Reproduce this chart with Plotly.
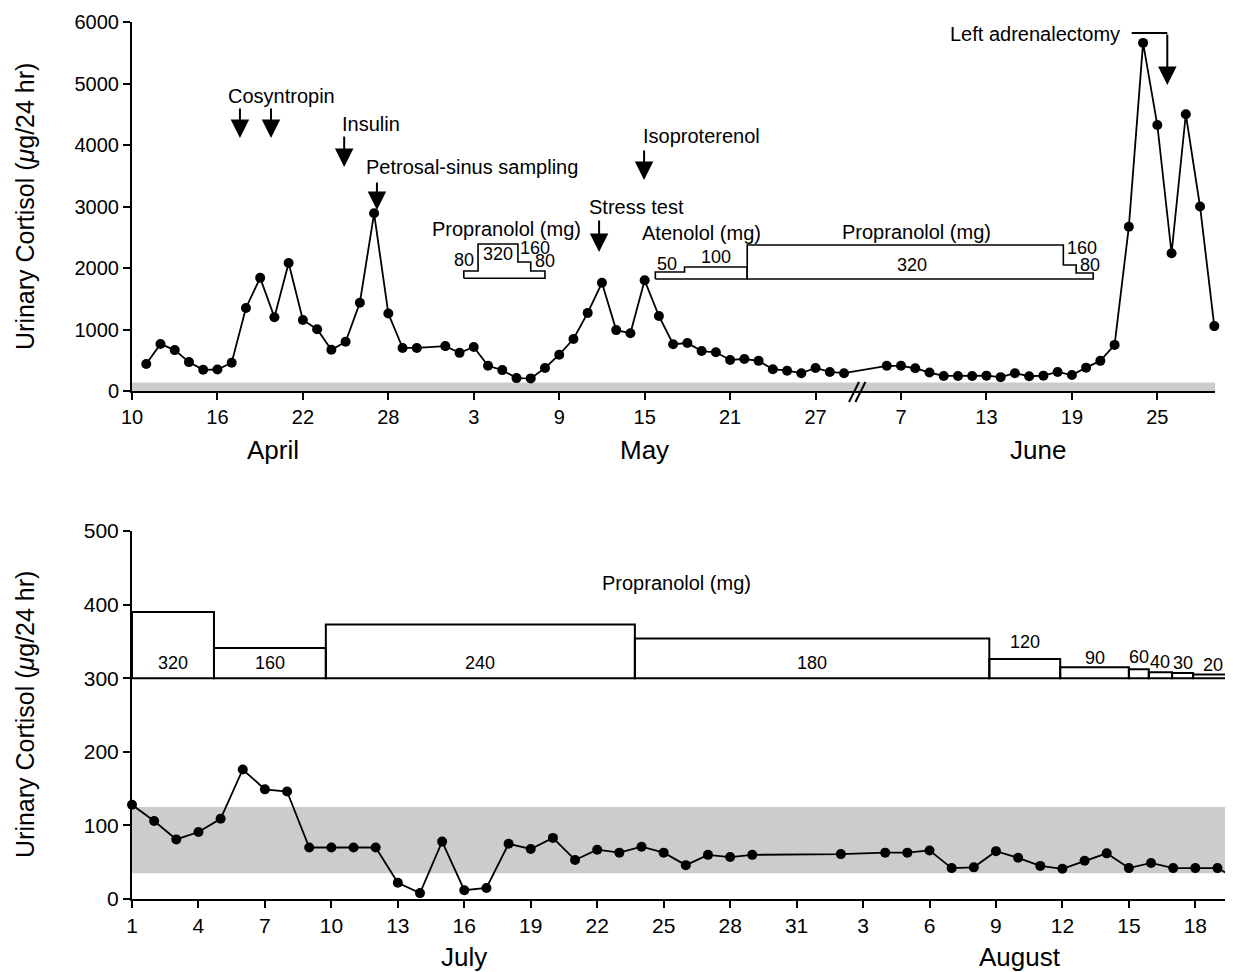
import plotly.graph_objects as go

# ---------------- DATA ----------------
# Top panel: day index on the chart axis (April 10 = 0, uniform 6-day ticks)
top_day = [1, 2, 3, 4, 5, 6, 7, 8, 9, 10, 11, 12, 13, 14, 15, 16, 17, 18, 19, 20,
           22, 23, 24, 25, 26, 27, 28, 29, 30, 31, 32, 33, 34, 35, 36, 37, 38, 39, 40,
           41, 42, 43, 44, 45, 46, 47, 48, 49, 50,
           53, 54, 55, 56, 57, 58, 59, 60, 61, 62, 63, 64, 65, 66, 67, 68, 69, 70,
           71, 72, 73, 74, 75, 76]
top_cortisol = [440, 765, 665, 470, 345, 350, 460, 1350, 1840, 1200, 2080, 1155, 1005, 670, 800, 1435, 2890, 1260, 700, 700,
                730, 620, 715, 410, 340, 210, 205, 375, 590, 845, 1270, 1760, 990, 940, 1800, 1220, 760, 780, 650,
                630, 505, 520, 490, 355, 330, 290, 375, 310, 290,
                410, 410, 370, 300, 245, 245, 245, 250, 225, 290, 240, 250, 310, 260, 380, 490, 750, 2670,
                5660, 4325, 2240, 4500, 3000, 1055]
top_tickvals = [0, 6, 12, 18, 24, 30, 36, 42, 48, 54, 60, 66, 72]
top_ticktext = ["10", "16", "22", "28", "3", "9", "15", "21", "27", "7", "13", "19", "25"]
top_months = ["April", "May", "June"]
top_month_pos = [9.9, 36.0, 63.6]
top_normal = [0, 140]

# Top panel drug regimens (step outlines): start days, end day, step heights, base, labels
prop1_start = [23.3, 24.3, 27.1, 28.0]
prop1_end = 29.0
prop1_top = [1951, 2390, 2098, 1951]
prop1_base = 1833
prop1_dose = ["80", "320", "160", "80"]
prop1_lbl_x = [23.3, 25.7, 28.3, 29.0]
prop1_lbl_y = [2130, 2228, 2325, 2114]

aten_start = [36.75, 38.8]
aten_end = 43.2
aten_top = [1935, 2016]
aten_dose = ["50", "100"]
aten_lbl_x = [37.6, 41.0]
aten_lbl_y = [2065, 2179]

prop2_start = [43.2, 65.4, 66.3]
prop2_end = 67.5
prop2_top = [2374, 2049, 1919]
prop2_dose = ["320", "160", "80"]
prop2_lbl_x = [54.8, 66.7, 67.3]
prop2_lbl_y = [2049, 2325, 2049]
regimen2_base = 1821

# Events (arrows): text, text x, text y, arrow x list, arrow tail y, arrow tip y
events = [
    ("Cosyntropin", 10.5, 4797, [7.58, 9.76], 4618, 4114),
    ("Insulin", 16.8, 4341, [14.9], 4163, 3642),
    ("Petrosal-sinus sampling", 23.9, 3642, [17.2], 3415, 2943),
    ("Isoproterenol", 40.0, 4146, [35.96], 3935, 3431),
    ("Stress test", 35.4, 2992, [32.8], 2797, 2260),
]

# Bottom panel: day index (July 1 = 0)
bot_day = [0, 1, 2, 3, 4, 5, 6, 7, 8, 9, 10, 11, 12, 13, 14, 15, 16, 17, 18, 19, 20,
           21, 22, 23, 24, 25, 26, 27, 28, 32, 34, 35, 36, 37, 38, 39, 40, 41, 42, 43,
           44, 45, 46, 47, 48, 49, 50]
bot_cortisol = [128, 106, 81, 91, 109, 176, 149, 146, 70, 70, 70, 70, 22, 8, 78, 12, 15, 75, 68, 83, 53,
                67, 63, 71, 63, 46, 60, 57, 60, 61, 63, 63, 66, 42, 43, 65, 56, 45, 41, 52,
                62, 42, 49, 42, 42, 42, 25]
bot_tickvals = [0, 3, 6, 9, 12, 15, 18, 21, 24, 27, 30, 33, 36, 39, 42, 45, 48]
bot_ticktext = ["1", "4", "7", "10", "13", "16", "19", "22", "25", "28", "31",
                "3", "6", "9", "12", "15", "18"]
bot_months = ["July", "August"]
bot_month_pos = [15.0, 40.1]
bot_normal = [35, 125]

# Bottom panel propranolol regimen
bprop_edges = [0, 3.7, 8.75, 22.7, 38.7, 41.9, 45.0, 45.9, 46.95, 47.9, 49.7]
bprop_top = [390, 341, 373, 354, 326, 315, 312, 308, 307, 305]
bprop_dose = ["320", "160", "240", "180", "120", "90", "60", "40", "30", "20"]
bprop_lbl_y = [321, 321, 321, 321, 349, 327, 329, 322, 321, 318]
bprop_base = 300

# ---------------- FIGURE ----------------
FONT = "Liberation Sans, Arial, Helvetica, sans-serif"
OFF = 8                      # page body margin in the browser
W, H = 1233 - OFF, 972 - OFF
ML, MR, MT = 132 - OFF, 0, 22 - OFF
MB = H - (899 - OFF)
pw = W - ML - MR
ph = H - MT - MB


def py(ref_y):
    """window pixel row -> paper y"""
    return (899 - ref_y) / ph


def px(ref_x):
    """window pixel column -> paper x"""
    return (ref_x - 132) / pw


fig = go.Figure()


def step_outline(starts, end, tops, base):
    xs, ys = [starts[0]], [base]
    for i, s in enumerate(starts):
        xs += [s, (starts[i + 1] if i + 1 < len(starts) else end)]
        ys += [tops[i], tops[i]]
    xs += [end, starts[0]]
    ys += [base, base]
    return xs, ys


for starts, end, tops, base in [(prop1_start, prop1_end, prop1_top, prop1_base),
                                (aten_start, aten_end, aten_top, regimen2_base),
                                (prop2_start, prop2_end, prop2_top, regimen2_base)]:
    xs, ys = step_outline(starts, end, tops, base)
    fig.add_trace(go.Scatter(x=xs, y=ys, mode="lines", line=dict(color="black", width=1.6),
                             xaxis="x", yaxis="y", showlegend=False, hoverinfo="skip"))

fig.add_trace(go.Scatter(x=top_day, y=top_cortisol, mode="lines+markers",
                         line=dict(color="black", width=1.8),
                         marker=dict(color="black", size=10),
                         xaxis="x", yaxis="y", showlegend=False, cliponaxis=False))

fig.add_trace(go.Scatter(x=bot_day, y=bot_cortisol, mode="lines+markers",
                         line=dict(color="black", width=1.8),
                         marker=dict(color="black", size=10),
                         xaxis="x2", yaxis="y2", showlegend=False, cliponaxis=False))

shapes = []
# normal-range bands
shapes.append(dict(type="rect", xref="x domain", yref="y", x0=0, x1=1,
                   y0=top_normal[0], y1=top_normal[1], fillcolor="#cccccc",
                   line=dict(width=0), layer="below"))
shapes.append(dict(type="rect", xref="x2 domain", yref="y2", x0=0, x1=1,
                   y0=bot_normal[0], y1=bot_normal[1], fillcolor="#cccccc",
                   line=dict(width=0), layer="below"))
# bottom regimen boxes
for i in range(len(bprop_top)):
    shapes.append(dict(type="rect", xref="x2", yref="y2",
                       x0=bprop_edges[i], x1=bprop_edges[i + 1],
                       y0=bprop_base, y1=bprop_top[i],
                       line=dict(color="black", width=2), fillcolor="rgba(0,0,0,0)"))
# axis break marks
for dx in [0, 0.45]:
    shapes.append(dict(type="line", xref="x", yref="paper",
                       x0=50.35 + dx, x1=51.05 + dx, y0=py(402), y1=py(382),
                       line=dict(color="black", width=2)))
# adrenalectomy bent arrow horizontal part
shapes.append(dict(type="line", xref="x", yref="y", x0=70.2, x1=72.7, y0=5821, y1=5821,
                   line=dict(color="black", width=2)))

ann = []
txt_font = dict(family=FONT, size=20, color="black")
lbl_font = dict(family=FONT, size=18, color="black")


def arrow(x, tail, tip, xr="x", yr="y"):
    return dict(x=x, y=tip, ax=x, ay=tail, xref=xr, yref=yr, axref=xr, ayref=yr,
                text="", showarrow=True, arrowhead=2, arrowsize=1.85, arrowwidth=2,
                arrowcolor="black", standoff=0, startstandoff=0)


for name, tx, ty, axs, tail, tip in events:
    ann.append(dict(x=tx, y=ty, xref="x", yref="y", text=name, showarrow=False,
                    font=txt_font, xanchor="center", yanchor="middle"))
    for ax_ in axs:
        ann.append(arrow(ax_, tail, tip))

ann.append(dict(x=69.5, y=5805, xref="x", yref="y", text="Left adrenalectomy",
                showarrow=False, font=txt_font, xanchor="right", yanchor="middle"))
ann.append(arrow(72.7, 5821, 4976))

# regimen titles
ann.append(dict(x=26.3, y=2634, xref="x", yref="y", text="Propranolol (mg)", showarrow=False,
                font=txt_font, xanchor="center", yanchor="middle"))
ann.append(dict(x=40.0, y=2569, xref="x", yref="y", text="Atenolol (mg)", showarrow=False,
                font=txt_font, xanchor="center", yanchor="middle"))
ann.append(dict(x=55.1, y=2585, xref="x", yref="y", text="Propranolol (mg)", showarrow=False,
                font=txt_font, xanchor="center", yanchor="middle"))
for labels, xs, ys in [(prop1_dose, prop1_lbl_x, prop1_lbl_y),
                       (aten_dose, aten_lbl_x, aten_lbl_y),
                       (prop2_dose, prop2_lbl_x, prop2_lbl_y)]:
    for t, x, y in zip(labels, xs, ys):
        ann.append(dict(x=x, y=y, xref="x", yref="y", text=t, showarrow=False,
                        font=lbl_font, xanchor="center", yanchor="middle"))

ann.append(dict(x=24.6, y=429, xref="x2", yref="y2", text="Propranolol (mg)", showarrow=False,
                font=txt_font, xanchor="center", yanchor="middle"))
for i, t in enumerate(bprop_dose):
    ann.append(dict(x=(bprop_edges[i] + bprop_edges[i + 1]) / 2, y=bprop_lbl_y[i],
                    xref="x2", yref="y2", text=t, showarrow=False,
                    font=lbl_font, xanchor="center", yanchor="middle"))

# month labels
month_font = dict(family=FONT, size=26, color="black")
for m, p in zip(top_months, top_month_pos):
    ann.append(dict(x=p, y=py(450), xref="x", yref="paper", text=m,
                    showarrow=False, font=month_font, xanchor="center", yanchor="middle"))
for m, p in zip(bot_months, bot_month_pos):
    ann.append(dict(x=p, y=py(957), xref="x2", yref="paper", text=m,
                    showarrow=False, font=month_font, xanchor="center", yanchor="middle"))

# y-axis titles
for yc in [207, 715]:
    ann.append(dict(x=px(25), y=py(yc), xref="paper", yref="paper",
                    text="Urinary Cortisol (<i>μ</i>g/24 hr)", textangle=-90, showarrow=False,
                    font=dict(family=FONT, size=25, color="black"),
                    xanchor="center", yanchor="middle"))

axis_common = dict(showgrid=False, zeroline=False, showline=True, linecolor="black",
                   linewidth=2, ticks="outside", ticklen=7, tickwidth=2, tickcolor="black")

top_x_end = 76.05
fig.update_layout(
    width=W, height=H,
    margin=dict(l=ML, r=MR, t=MT, b=MB, pad=0),
    paper_bgcolor="white", plot_bgcolor="white",
    font=dict(family=FONT, color="black"),
    showlegend=False,
    xaxis=dict(domain=[0, px(1215)], range=[0, top_x_end], tickvals=top_tickvals,
               ticktext=top_ticktext, anchor="y", tickfont=dict(family=FONT, size=20),
               **axis_common),
    yaxis=dict(domain=[py(391), 1], range=[0, 6000], tickvals=list(range(0, 6001, 1000)),
               anchor="x", tickfont=dict(family=FONT, size=20), **axis_common),
    xaxis2=dict(domain=[0, 1], range=[0, 49.7], tickvals=bot_tickvals, ticktext=bot_ticktext,
                anchor="y2", tickfont=dict(family=FONT, size=21), **axis_common),
    yaxis2=dict(domain=[0, py(531)], range=[0, 500], tickvals=[0, 100, 200, 300, 400, 500],
                anchor="x2", tickfont=dict(family=FONT, size=21), **axis_common),
    shapes=shapes,
    annotations=ann,
)

fig.write_html("out.html")
